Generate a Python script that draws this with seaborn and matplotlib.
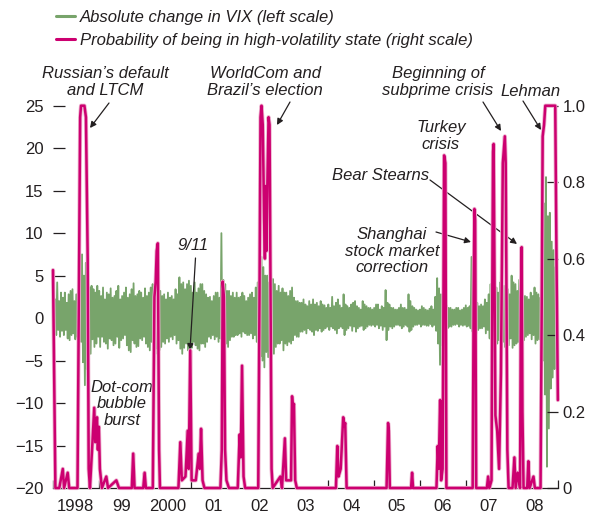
import matplotlib
matplotlib.use("Agg")
import matplotlib.pyplot as plt
import matplotlib.dates as mdates
import matplotlib.ticker as mticker
import matplotlib.patheffects as pe
from matplotlib.lines import Line2D
import seaborn as sns
import pandas as pd

# ---------------- data ----------------
# Absolute change in VIX: two high/low readings per month, 1998-2008
vix_1998 = [2.5, -1.5, 2.2, -2.0, 4.2, -1.4, 2.0, -2.2, 3.0, -1.5, 2.4, -2.0,
            3.0, -1.4, 1.8, -2.4, 2.8, -2.6, 3.2, -2.0, 3.4, -1.8, 2.0, -2.5,
            2.8, -2.2, 3.0, -2.8, 5.5, -2.8, 7.5, -5.2, 5.0, -7.9, 6.5, -6.0,
            4.8, -5.5, 3.6, -4.2, 3.8, -2.5, 3.4, -3.4, 3.0, -3.0, 3.8, -2.2]
vix_1999 = [3.2, -3.4, 2.6, -2.2, 3.6, -2.8, 2.2, -3.0, 3.0, -3.6, 2.8, -2.4,
            3.5, -2.6, 2.4, -3.2, 2.6, -3.0, 3.2, -2.2, 3.8, -3.5, 2.2, -2.6,
            2.6, -2.4, 3.0, -2.0, 3.6, -3.2, 2.4, -3.8, 2.8, -4.0, 3.4, -2.6,
            4.1, -3.0, 2.6, -3.4, 2.8, -3.3, 3.2, -2.4, 3.0, -2.6, 2.4, -2.2]
vix_2000 = [3.5, -3.0, 2.6, -3.4, 3.0, -3.8, 3.6, -2.8, 4.0, -4.6, 3.2, -3.6,
            4.5, -4.2, 4.8, -3.8, 3.2, -3.4, 2.6, -2.8, 2.8, -3.0, 2.2, -2.4,
            3.0, -2.8, 2.4, -2.2, 2.6, -2.5, 2.2, -2.0, 3.4, -3.0, 2.8, -2.6,
            4.8, -3.6, 4.0, -4.2, 4.2, -3.5, 3.4, -3.0, 4.0, -3.8, 4.4, -3.2]
vix_2001 = [3.8, -3.5, 3.0, -2.8, 4.2, -3.2, 3.0, -3.6, 3.5, -3.8, 4.0, -3.0,
            4.0, -3.0, 3.2, -3.4, 2.8, -2.8, 2.4, -2.2, 2.5, -2.4, 2.0, -2.0,
            2.6, -2.5, 3.0, -2.2, 3.0, -2.8, 2.4, -2.4, 10.0, -3.0, 4.5, -4.2,
            4.0, -3.0, 3.2, -3.4, 3.2, -2.6, 2.6, -2.2, 3.0, -2.2, 2.4, -2.0]
vix_2002 = [3.0, -2.0, 2.4, -1.8, 2.5, -2.2, 3.0, -1.6, 2.6, -1.8, 2.0, -2.0,
            2.4, -2.0, 2.8, -1.8, 3.0, -2.4, 2.4, -2.0, 3.6, -2.8, 4.2, -3.0,
            5.5, -4.5, 7.2, -5.0, 6.0, -5.8, 5.0, -4.0, 5.0, -4.6, 4.2, -5.0,
            6.0, -5.5, 4.6, -4.2, 4.0, -3.4, 3.2, -3.0, 3.8, -3.0, 3.0, -2.6]
vix_2003 = [3.5, -3.8, 3.0, -3.0, 3.0, -3.2, 2.6, -2.8, 3.2, -3.0, 3.6, -2.6,
            2.4, -2.0, 2.0, -2.2, 2.0, -2.2, 1.8, -1.6, 1.8, -1.6, 2.2, -1.4,
            1.6, -1.8, 1.4, -1.2, 2.0, -1.4, 1.6, -1.6, 2.2, -2.0, 1.6, -1.4,
            1.8, -1.5, 1.4, -1.2, 2.0, -1.6, 1.6, -1.4, 1.5, -1.2, 1.2, -1.0]
vix_2004 = [1.6, -1.4, 1.2, -1.0, 2.5, -1.2, 1.4, -1.4, 1.8, -1.8, 2.2, -1.2,
            1.5, -1.0, 1.2, -1.2, 2.8, -2.0, 1.6, -1.4, 1.4, -1.2, 1.2, -0.9,
            1.6, -1.5, 1.8, -1.0, 2.0, -1.6, 1.4, -1.2, 1.2, -1.0, 1.0, -0.9,
            2.0, -1.4, 1.6, -1.2, 1.4, -1.0, 1.2, -0.8, 1.2, -0.9, 1.0, -0.8]
vix_2005 = [1.2, -1.0, 1.6, -0.8, 1.6, -1.2, 1.0, -0.9, 1.4, -1.4, 1.2, -1.0,
            3.3, -2.6, 1.8, -1.4, 1.6, -1.0, 1.2, -1.2, 1.2, -1.0, 1.0, -0.8,
            1.0, -0.8, 1.2, -0.9, 1.6, -1.2, 1.2, -1.0, 1.2, -0.8, 1.0, -1.0,
            2.8, -1.6, 2.0, -1.4, 1.4, -1.0, 1.2, -0.8, 1.0, -0.8, 0.9, -0.7]
vix_2006 = [1.0, -1.0, 1.4, -0.8, 1.2, -0.8, 1.0, -0.9, 0.9, -0.9, 1.1, -0.7,
            1.4, -1.0, 1.0, -0.8, 2.5, -1.5, 4.7, -3.0, 3.5, -5.5, 2.8, -3.2,
            2.2, -2.0, 2.0, -1.6, 1.5, -1.2, 1.2, -1.0, 1.2, -1.0, 1.0, -0.8,
            1.0, -0.8, 1.2, -0.7, 1.2, -1.0, 0.9, -0.8, 1.0, -0.9, 1.2, -0.8]
vix_2007 = [1.5, -1.0, 1.2, -0.9, 1.4, -1.2, 7.2, -1.6, 2.6, -2.2, 2.2, -1.8,
            1.8, -1.4, 1.4, -1.2, 1.6, -1.2, 1.4, -1.0, 2.2, -1.8, 1.8, -1.4,
            2.8, -2.4, 4.0, -3.5, 5.3, -6.1, 4.4, -4.0, 3.6, -3.0, 3.0, -2.6,
            4.2, -4.0, 3.2, -2.8, 3.8, -3.4, 4.4, -3.0, 3.4, -3.2, 2.8, -2.4]
vix_2008 = [5.0, -3.5, 4.2, -3.2, 4.0, -3.0, 3.2, -2.8, 4.5, -3.5, 3.8, -3.0,
            3.0, -2.6, 2.6, -2.2, 2.5, -2.0, 2.2, -1.8, 3.0, -2.5, 2.6, -2.0,
            3.6, -3.0, 3.0, -2.6, 2.8, -2.5, 2.4, -2.0, 6.0, -5.0, 13.5, -9.0,
            16.6, -17.5, 12.0, -13.0, 12.4, -8.3, 9.0, -7.0, 8.0, -6.0, 6.0, -4.0]

# Probability of being in high-volatility state (breakpoints)
prob_dates = [
    "1998-01-01", "1998-01-10", "1998-01-20", "1998-02-20", "1998-03-20", "1998-03-30",
    "1998-04-28", "1998-05-10", "1998-07-15", "1998-07-28", "1998-08-05", "1998-08-12",
    "1998-09-08", "1998-09-20", "1998-10-04", "1998-10-12", "1998-10-22", "1998-11-11",
    "1998-11-25", "1998-12-03", "1998-12-17", "1998-12-24", "1999-01-01", "1999-01-09",
    "1999-01-25", "1999-03-01", "1999-03-15", "1999-05-20", "1999-06-10", "1999-09-20",
    "1999-10-01", "1999-10-12", "1999-12-20", "1999-12-31", "2000-01-10", "2000-03-05",
    "2000-03-18", "2000-03-28", "2000-04-05", "2000-04-14", "2000-04-24", "2000-05-01",
    "2000-09-25", "2000-10-10", "2000-10-22", "2000-11-20", "2000-12-08", "2000-12-16",
    "2000-12-28", "2001-01-08", "2001-02-10", "2001-03-05", "2001-03-14", "2001-03-24",
    "2001-04-05", "2001-04-20", "2001-08-25", "2001-09-05", "2001-09-12", "2001-09-22",
    "2001-10-01", "2001-10-12", "2001-11-01", "2002-01-10", "2002-01-25", "2002-02-03",
    "2002-02-13", "2002-02-25", "2002-03-10", "2002-06-22", "2002-07-02", "2002-07-10",
    "2002-07-18", "2002-07-28", "2002-08-08", "2002-08-14", "2002-08-20", "2002-08-26",
    "2002-09-03", "2002-09-12", "2002-09-20", "2002-09-28", "2002-10-06", "2002-10-15",
    "2002-12-15", "2002-12-28", "2003-01-20", "2003-01-30", "2003-03-10", "2003-03-18",
    "2003-03-26", "2003-04-02", "2003-04-12", "2003-04-25", "2004-03-01", "2004-03-12",
    "2004-03-22", "2004-04-08", "2004-04-28", "2004-05-06", "2004-05-14", "2004-05-25",
    "2005-04-08", "2005-04-20", "2005-04-26", "2005-05-04", "2005-10-20", "2005-10-28",
    "2005-11-05", "2006-05-10", "2006-05-20", "2006-05-28", "2006-06-08", "2006-06-16",
    "2006-06-28", "2006-07-10", "2006-07-20", "2006-07-28", "2007-02-22", "2007-03-02",
    "2007-03-08", "2007-03-14", "2007-03-22", "2007-06-15", "2007-06-25", "2007-07-05",
    "2007-07-22", "2007-07-28", "2007-08-03", "2007-08-08", "2007-08-14", "2007-08-22",
    "2007-09-05", "2007-09-20", "2007-10-05", "2007-10-20", "2007-11-05", "2007-11-12",
    "2007-11-25", "2007-12-05", "2008-01-05", "2008-01-20", "2008-01-30", "2008-02-15",
    "2008-03-05", "2008-03-12", "2008-03-18", "2008-03-24", "2008-04-02", "2008-05-01",
    "2008-05-10", "2008-05-20", "2008-06-20", "2008-07-01", "2008-08-15", "2008-08-25",
    "2008-09-01", "2008-09-12", "2008-09-22", "2008-12-10", "2008-12-20", "2008-12-31",
]
prob_values = [
    0.57, 0.30, 0.0, 0.0, 0.05, 0.0,
    0.04, 0.0, 0.0, 0.6, 0.97, 1.0,
    1.0, 0.97, 0.6, 0.05, 0.0, 0.12,
    0.21, 0.12, 0.185, 0.10, 0.16, 0.05,
    0.0, 0.03, 0.0, 0.02, 0.0, 0.0,
    0.09, 0.0, 0.0, 0.04, 0.0, 0.0,
    0.5, 0.54, 0.62, 0.64, 0.1, 0.0,
    0.0, 0.12, 0.02, 0.03, 0.15, 0.05,
    0.36, 0.02, 0.02, 0.09, 0.05, 0.155,
    0.02, 0.0, 0.0, 0.1, 0.54, 0.5,
    0.1, 0.02, 0.0, 0.0, 0.14, 0.08,
    0.32, 0.03, 0.0, 0.0, 0.5, 0.97,
    1.0, 0.95, 0.7, 0.6, 0.79, 0.62,
    0.8, 0.97, 0.95, 0.5, 0.05, 0.0,
    0.03, 0.0, 0.13, 0.02, 0.02, 0.24,
    0.2, 0.22, 0.02, 0.0, 0.0, 0.11,
    0.03, 0.05, 0.185, 0.16, 0.17, 0.0,
    0.0, 0.17, 0.15, 0.0, 0.0, 0.04,
    0.0, 0.0, 0.11, 0.05, 0.23, 0.02,
    0.05, 0.87, 0.85, 0.0, 0.0, 0.5,
    0.73, 0.7, 0.0, 0.0, 0.03, 0.0,
    0.02, 0.5, 0.88, 0.90, 0.6, 0.19,
    0.15, 0.05, 0.3, 0.85, 0.92, 0.85,
    0.1, 0.0, 0.0, 0.08, 0.0, 0.04,
    0.0, 0.5, 0.63, 0.2, 0.0, 0.0,
    0.07, 0.0, 0.03, 0.0, 0.0, 0.5,
    0.92, 0.95, 1.0, 1.0, 0.6, 0.23,
]

year_labels = ["1998", "99", "2000", "01", "02", "03", "04", "05", "06", "07", "08"]
left_ticks = [-20, -15, -10, -5, 0, 5, 10, 15, 20, 25]
right_ticks = [0, 0.2, 0.4, 0.6, 0.8, 1.0]
right_labels = ["0", "0.2", "0.4", "0.6", "0.8", "1.0"]

GREEN = "#78A46B"
MAGENTA = "#CC0070"
TEXT = "#231F20"

vix_values = (vix_1998 + vix_1999 + vix_2000 + vix_2001 + vix_2002 + vix_2003 +
              vix_2004 + vix_2005 + vix_2006 + vix_2007 + vix_2008)
vix_df = pd.DataFrame({
    "date": pd.date_range("1998-01-04", "2008-12-20", periods=len(vix_values)),
    "vix": vix_values,
})
prob_df = pd.DataFrame({"date": pd.to_datetime(prob_dates), "prob": prob_values})

# ---------------- figure ----------------
sns.set_theme(style="white")
plt.rcParams["font.family"] = ["Liberation Sans Narrow", "Liberation Sans", "DejaVu Sans"]
plt.rcParams["axes.unicode_minus"] = True

W, H = 595, 519
fig = plt.figure(figsize=(W / 100, H / 100), dpi=100)
ax = fig.add_axes([53 / W, 1 - 488 / H, (558 - 53) / W, (488 - 105.7) / H])
ax2 = ax.twinx()

sns.lineplot(data=vix_df, x="date", y="vix", ax=ax, color=GREEN, linewidth=1.3)
sns.lineplot(data=prob_df, x="date", y="prob", ax=ax2, color=MAGENTA, linewidth=1.8,
             clip_on=False,
             path_effects=[pe.Stroke(linewidth=3.0, foreground="#EDB3CF"), pe.Normal()])

ax.set_xlim(pd.Timestamp("1998-01-01"), pd.Timestamp("2009-01-01"))
ax.set_ylim(-20, 25)
ax2.set_ylim(0, 1)
ax.set_xlabel("")
ax.set_ylabel("")
ax2.set_xlabel("")
ax2.set_ylabel("")

for a in (ax, ax2):
    for s in a.spines.values():
        s.set_visible(False)
ax.spines["bottom"].set_visible(True)
ax.spines["bottom"].set_color(TEXT)
ax.spines["bottom"].set_linewidth(0.9)

FS = 12
# x axis: tick marks at year boundaries, labels mid-year
ax.xaxis.set_major_locator(mdates.YearLocator(1))
ax.xaxis.set_major_formatter(mticker.NullFormatter())
ax.xaxis.set_minor_locator(mdates.YearLocator(1, month=7, day=1))
ax.xaxis.set_minor_formatter(mticker.FixedFormatter(year_labels))
ax.tick_params(axis="x", which="major", direction="in", length=6, width=0.9,
               color=TEXT, bottom=True)
ax.tick_params(axis="x", which="minor", length=0, pad=8, labelsize=FS,
               labelcolor=TEXT, bottom=True)

ax.set_yticks(left_ticks)
ax.tick_params(axis="y", direction="in", length=8.5, width=0.9, color=TEXT,
               left=True, pad=7, labelsize=FS, labelcolor=TEXT)
ax2.set_yticks(right_ticks)
ax2.set_yticklabels(right_labels)
ax2.tick_params(axis="y", direction="in", length=8, width=0.9, color=TEXT,
                right=True, pad=3.5, labelsize=FS, labelcolor=TEXT)

# legend
handles = [Line2D([], [], color=GREEN, lw=2.2), Line2D([], [], color=MAGENTA, lw=2.2)]
labels = ["Absolute change in VIX (left scale)",
          "Probability of being in high-volatility state (right scale)"]
fig.legend(handles, labels, loc="upper left", bbox_to_anchor=(56 / W, 1 - 10 / H),
           frameon=False, handlelength=1.15, handletextpad=0.3, labelspacing=0.5,
           prop={"size": FS, "style": "italic"}, labelcolor=TEXT, borderaxespad=0,
           borderpad=0)

# annotations (figure pixel coordinates, origin bottom-left)
def fp(x, y):
    return (x, H - y)

txt = dict(xycoords="figure pixels", textcoords="figure pixels", fontsize=FS,
           fontstyle="italic", color=TEXT, ha="center", va="center",
           linespacing=1.1)
arrow = dict(arrowstyle="-|>", color=TEXT, lw=0.9, mutation_scale=9,
             shrinkA=0, shrinkB=0)

ax.annotate("Russian’s default\nand LTCM", xy=fp(105, 82), **txt)
ax.annotate("", xy=fp(90, 128), xytext=fp(109, 103), xycoords="figure pixels",
            textcoords="figure pixels", arrowprops=arrow)

ax.annotate("WorldCom and\nBrazil’s election", xy=fp(265, 82), **txt)
ax.annotate("", xy=fp(277, 125), xytext=fp(290, 102), xycoords="figure pixels",
            textcoords="figure pixels", arrowprops=arrow)

ax.annotate("Beginning of\nsubprime crisis", xy=fp(438, 82), **txt)
ax.annotate("", xy=fp(501, 131), xytext=fp(483, 102), xycoords="figure pixels",
            textcoords="figure pixels", arrowprops=arrow)

ax.annotate("Lehman", xy=fp(531, 92), **txt)
ax.annotate("", xy=fp(541, 130), xytext=fp(523, 101), xycoords="figure pixels",
            textcoords="figure pixels", arrowprops=arrow)

ax.annotate("Turkey\ncrisis", xy=fp(441, 136), **txt)

ax.annotate("Bear Stearns", xy=fp(381, 176), **txt)
ax.annotate("", xy=fp(517, 244), xytext=fp(430, 180), xycoords="figure pixels",
            textcoords="figure pixels", arrowprops=arrow)

ax.annotate("Shanghai\nstock market\ncorrection", xy=fp(392, 251), **txt)
ax.annotate("", xy=fp(471, 242), xytext=fp(436, 232), xycoords="figure pixels",
            textcoords="figure pixels", arrowprops=arrow)

ax.annotate("9/11", xy=fp(193, 245), **txt)
ax.annotate("", xy=fp(190, 350), xytext=fp(195.5, 258), xycoords="figure pixels",
            textcoords="figure pixels", arrowprops=arrow)

ax.annotate("Dot-com\nbubble\nburst", xy=fp(122, 404), **txt)

fig.savefig("out.png", dpi=100)
